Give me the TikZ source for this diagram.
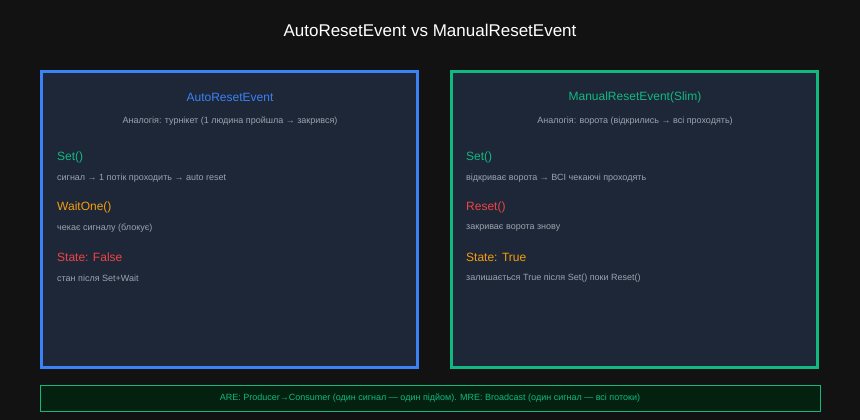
\documentclass[tikz,border=0pt]{standalone}
\usepackage{fontspec}
\setmainfont{Liberation Sans}
\begin{document}
\definecolor{bg}{HTML}{121212}
\definecolor{panel}{HTML}{1E2738}
\definecolor{cblue}{HTML}{3B82F6}
\definecolor{cgreen}{HTML}{10B981}
\definecolor{corange}{HTML}{F59E0B}
\definecolor{cred}{HTML}{EF4444}
\definecolor{cgray}{HTML}{9CA3AF}
\definecolor{notefill}{HTML}{04200F}
\begin{tikzpicture}[x=1pt,y=-1pt,
  txt/.style={anchor=west,inner sep=0pt},
  head/.style={font=\fontsize{12}{14}\selectfont},
  desc/.style={txt,text=cgray,font=\fontsize{9}{11}\selectfont},
  item/.style={txt,font=\fontsize{12}{14}\selectfont}]
\fill[bg] (0,0) rectangle (860,420);
\useasboundingbox (0,0) rectangle (860,420);
\node[text=white,font=\fontsize{17}{20}\selectfont] (title) at (430,30) {AutoResetEvent vs ManualResetEvent};
\node[draw=cblue,line width=3pt,fill=panel,minimum width=376pt,minimum height=296pt,inner sep=0pt] (left) at (229.5,219.5) {};
\node[draw=cgreen,line width=3pt,fill=panel,minimum width=366pt,minimum height=296pt,inner sep=0pt] (right) at (634.5,219.5) {};
\node[head,text=cblue] (lt) at (230,97) {AutoResetEvent};
\node[desc,anchor=center] (ls) at (230,121) {Аналогія: турнікет (1 людина пройшла → закрився)};
\node[item,text=cgreen] (l1) at (57,157) {Set()};
\node[desc] (l1d) at (57,178) {сигнал → 1 потік проходить → auto reset};
\node[item,text=corange] (l2) at (57,207) {WaitOne()};
\node[desc] (l2d) at (57,228) {чекає сигналу (блокує)};
\node[item,text=cred] (l3) at (57,257) {State: False};
\node[desc] (l3d) at (57,278) {стан після Set+Wait};
\node[head,text=cgreen] (rt) at (635,97) {ManualResetEvent(Slim)};
\node[desc,anchor=center] (rs) at (635,121) {Аналогія: ворота (відкрились → всі проходять)};
\node[item,text=cgreen] (r1) at (466,157) {Set()};
\node[desc] (r1d) at (466,178) {відкриває ворота → ВСІ чекаючі проходять};
\node[item,text=cred] (r2) at (466,207) {Reset()};
\node[desc] (r2d) at (466,228) {закриває ворота знову};
\node[item,text=corange] (r3) at (466,257) {State: True};
\node[desc] (r3d) at (466,278) {залишається True після Set() поки Reset()};
\node[draw=cgreen,line width=0.8pt,fill=notefill,minimum width=780pt,minimum height=26pt,inner sep=0pt,text=cgreen,font=\fontsize{9}{11}\selectfont] (note) at (430,398) {ARE: Producer→Consumer (один сигнал — один підйом). MRE: Broadcast (один сигнал — всі потоки)};
\end{tikzpicture}
\end{document}
